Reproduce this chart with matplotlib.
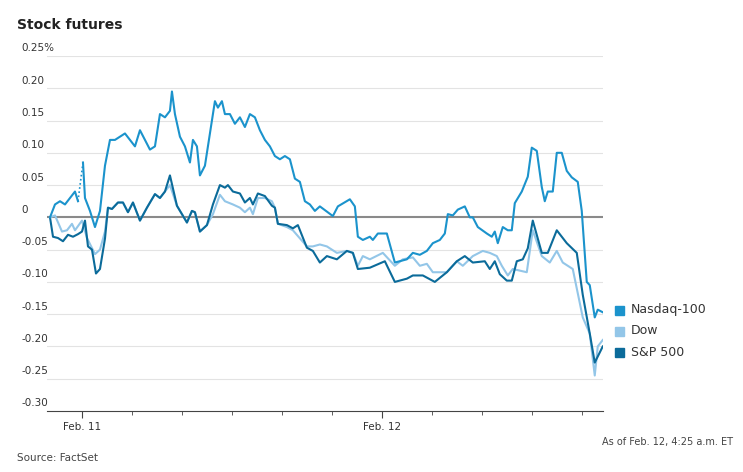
import matplotlib
matplotlib.use("Agg")
import matplotlib.pyplot as plt
import numpy as np

# x positions expressed as hours since Feb. 11 00:00 (chart time axis)
def hrs(px):
    return [(p - 82) / 12.5 for p in px]

nasdaq_px = [50,55,60,65,70,75,78,83,85,90,95,100,105,110,115,120,125,130,135,140,145,150,155,160,165,170,172,175,180,185,190,193,197,200,205,210,215,218,222,225,230,235,240,245,250,255,260,265,270,275,280,285,290,295,300,305,310,315,320,333,338,350,355,358,363,370,373,378,387,395,407,413,420,427,433,440,445,448,453,458,465,470,473,478,487,492,495,498,503,508,512,515,522,528,532,537,542,545,548,553,557,562,567,572,578,582,587,590,595,598,603]
nasdaq = [0.0,0.02,0.025,0.02,0.03,0.04,0.025,0.085,0.03,0.01,-0.015,0.01,0.08,0.12,0.12,0.125,0.13,0.12,0.11,0.135,0.12,0.105,0.11,0.16,0.155,0.165,0.195,0.16,0.125,0.11,0.085,0.12,0.11,0.065,0.08,0.13,0.18,0.17,0.18,0.16,0.16,0.145,0.155,0.14,0.16,0.155,0.135,0.12,0.11,0.095,0.09,0.095,0.09,0.06,0.055,0.025,0.02,0.01,0.017,0.002,0.017,0.028,0.017,-0.03,-0.035,-0.03,-0.035,-0.025,-0.025,-0.07,-0.065,-0.055,-0.058,-0.052,-0.04,-0.035,-0.025,0.005,0.003,0.012,0.017,0.0,0.0,-0.015,-0.025,-0.03,-0.022,-0.04,-0.015,-0.02,-0.02,0.022,0.04,0.063,0.108,0.103,0.047,0.025,0.04,0.04,0.1,0.1,0.072,0.062,0.055,0.01,-0.1,-0.105,-0.155,-0.143,-0.147]
nasdaq_gap_index = 6  # segment from index 6 to 7 is dotted

dow_px = [50,55,62,67,72,75,82,87,95,100,105,108,112,118,123,128,133,140,147,155,160,165,170,177,187,192,195,200,207,213,220,225,233,240,245,250,253,258,265,272,275,278,287,293,307,313,320,327,337,347,353,358,363,370,383,395,403,413,420,427,433,447,457,463,473,483,490,497,502,508,513,527,533,542,550,557,563,573,583,590,595,598,603]
dow = [0.0,0.003,-0.022,-0.02,-0.01,-0.02,-0.005,-0.032,-0.057,-0.05,-0.022,0.015,0.013,0.023,0.023,0.008,0.023,-0.005,0.015,0.036,0.03,0.04,0.05,0.018,-0.008,0.01,0.008,-0.022,-0.012,0.005,0.035,0.025,0.02,0.015,0.008,0.015,0.005,0.03,0.03,0.025,0.015,-0.01,-0.015,-0.02,-0.045,-0.045,-0.042,-0.045,-0.055,-0.052,-0.055,-0.075,-0.06,-0.065,-0.055,-0.075,-0.065,-0.062,-0.075,-0.072,-0.085,-0.085,-0.068,-0.075,-0.06,-0.052,-0.055,-0.06,-0.075,-0.09,-0.08,-0.085,-0.02,-0.06,-0.07,-0.052,-0.07,-0.08,-0.155,-0.18,-0.245,-0.2,-0.19]

sp_px = [50,53,58,63,68,73,78,82,85,88,92,96,100,105,108,112,118,123,128,133,140,147,155,160,165,170,177,187,192,195,200,207,213,220,225,228,233,240,245,250,253,258,265,272,275,278,287,293,298,307,313,320,327,337,347,353,358,370,385,395,407,413,423,435,447,457,465,473,485,490,495,500,507,512,517,523,528,533,542,548,557,567,577,583,590,595,603]
sp = [0.0,-0.03,-0.032,-0.037,-0.027,-0.03,-0.026,-0.022,-0.005,-0.045,-0.05,-0.087,-0.08,-0.033,0.015,0.013,0.023,0.023,0.008,0.023,-0.005,0.015,0.036,0.03,0.04,0.065,0.018,-0.008,0.01,0.008,-0.022,-0.012,0.02,0.05,0.046,0.05,0.04,0.037,0.023,0.03,0.02,0.037,0.033,0.018,0.015,-0.01,-0.012,-0.017,-0.012,-0.047,-0.052,-0.07,-0.06,-0.065,-0.052,-0.055,-0.08,-0.078,-0.068,-0.1,-0.095,-0.09,-0.09,-0.1,-0.085,-0.068,-0.06,-0.07,-0.068,-0.08,-0.068,-0.088,-0.098,-0.098,-0.068,-0.065,-0.048,-0.005,-0.055,-0.055,-0.02,-0.04,-0.055,-0.12,-0.18,-0.225,-0.2]

yticks = [0.25,0.20,0.15,0.10,0.05,0,-0.05,-0.10,-0.15,-0.20,-0.25,-0.30]
ytick_labels = ["0.25%","0.20","0.15","0.10","0.05","0","-0.05","-0.10","-0.15","-0.20","-0.25","-0.30"]
xticks_major = [0, 24]
xtick_labels = ["Feb. 11", "Feb. 12"]

c_nas, c_dow, c_sp = "#1b93cc", "#93c6e8", "#0b6b9a"

fig = plt.figure(figsize=(7.43, 4.72), dpi=100)
ax = fig.add_axes([47/743, 1-411/472, 556/743, 355/472])
ax.set_xlim(-2.8, 41.7)
ax.set_ylim(-0.30, 0.25)

for v in yticks:
    if v == 0:
        ax.axhline(0, color="#8a8a8a", lw=1.5, zorder=2)
    elif v != -0.30:
        ax.axhline(v, color="#e3e3e3", lw=0.8, zorder=1)
trans = matplotlib.transforms.blended_transform_factory(fig.transFigure, ax.transData)
for v, lab in zip(yticks, ytick_labels):
    ax.text(21/743, v + 0.004, lab, transform=trans, fontsize=7.5, color="#333333", va="bottom", ha="left", clip_on=False)

xd = hrs(dow_px); xs = hrs(sp_px); xn = hrs(nasdaq_px)
ax.plot(xd, dow, color=c_dow, lw=1.5, zorder=3)
ax.plot(xs, sp, color=c_sp, lw=1.5, zorder=4)
g = nasdaq_gap_index
ax.plot(xn[:g+1], nasdaq[:g+1], color=c_nas, lw=1.5, zorder=5)
ax.plot(xn[g:g+2], nasdaq[g:g+2], color=c_nas, lw=1.2, ls=(0, (1, 1.5)), zorder=5)
ax.plot(xn[g+1:], nasdaq[g+1:], color=c_nas, lw=1.5, zorder=5)

for s in ["top", "right", "left"]:
    ax.spines[s].set_visible(False)
ax.spines["bottom"].set_color("#444444")
ax.spines["bottom"].set_linewidth(0.8)
ax.set_yticks([])
ax.set_xticks(xticks_major)
ax.set_xticklabels(xtick_labels, fontsize=7.5, color="#333333")
ax.set_xticks(np.arange(4, 41, 4), minor=True)
ax.tick_params(axis="x", which="major", length=5, width=0.8, color="#444444", pad=3)
ax.tick_params(axis="x", which="minor", length=3, width=0.6, color="#444444")

fig.text(17/743, 1-25/472, "Stock futures", fontsize=10, fontweight="bold", color="#222222", va="center")
fig.text(17/743, 1-458/472, "Source: FactSet", fontsize=7.5, color="#444444", va="center")
fig.text(733/743, 1-442/472, "As of Feb. 12, 4:25 a.m. ET", fontsize=7, color="#444444", va="center", ha="right")

for i, (name, col) in enumerate([("Nasdaq-100", c_nas), ("Dow", c_dow), ("S&P 500", c_sp)]):
    y = 1 - (310 + 21*i)/472
    fig.patches.append(matplotlib.patches.Rectangle((615/743, y - 4.5/472), 9/743, 9/472, transform=fig.transFigure, color=col))
    fig.text(631/743, y, name, fontsize=9, color="#333333", va="center")

fig.savefig("out.png", dpi=100)
